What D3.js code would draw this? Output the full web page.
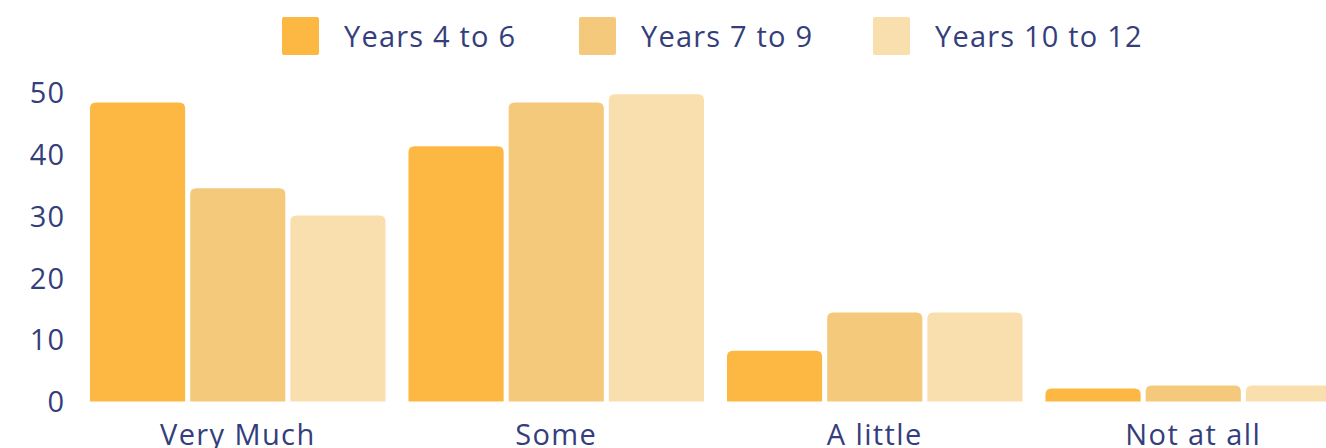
<!DOCTYPE html>
<html><head><meta charset="utf-8">
<script src="https://cdn.jsdelivr.net/npm/d3@7"></script>
<style>html,body{margin:0;padding:0;background:#fff;}svg{display:block;}</style>
</head><body>
<svg id="chart" width="1326" height="448"></svg>
<script>
const categories = ["Very Much", "Some", "A little", "Not at all"];
const seriesNames = ["Years 4 to 6", "Years 7 to 9", "Years 10 to 12"];
const years4to6 = [48.4, 41.3, 8.2, 2.1];
const years7to9 = [34.5, 48.4, 14.4, 2.6];
const years10to12 = [30.1, 49.7, 14.4, 2.6];
const yTicks = [0, 10, 20, 30, 40, 50];
const colors = ["#FDB843", "#F5C97B", "#F9DFAD"];
const textColor = "#343E7B";
const font = "'Open Sans', sans-serif";

const series = [years4to6, years7to9, years10to12];
const svg = d3.select("#chart");

const x0 = d3.scaleBand().domain(categories).range([78.5, 1352.5]).paddingInner(0.072).paddingOuter(0.036);
const x1 = d3.scaleBand().domain(seriesNames).range([0, x0.bandwidth()]).paddingInner(0.05);
const y = d3.scaleLinear().domain([0, 50]).range([401.5, 92.5]);

// y axis labels
const yAxis = d3.axisLeft(y).tickValues(yTicks).tickSize(0).tickPadding(0);
const ga = svg.append("g").attr("transform", "translate(65,0)").call(yAxis);
ga.select(".domain").remove();
ga.selectAll("text").attr("font-family", font).attr("font-size", 29).attr("letter-spacing", "1px")
  .attr("fill", textColor).attr("dy", "0.35em");

// x axis labels
const xAxis = d3.axisBottom(x0).tickSize(0).tickPadding(0);
const gx = svg.append("g").attr("transform", "translate(0,445)").call(xAxis);
gx.select(".domain").remove();
gx.selectAll("text").attr("font-family", font).attr("font-size", 29).attr("letter-spacing", "1.4px")
  .attr("fill", textColor).attr("dy", "0");

function topRounded(x, yTop, w, h, r) {
  r = Math.min(r, h, w / 2);
  return `M${x},${yTop + h}V${yTop + r}Q${x},${yTop} ${x + r},${yTop}H${x + w - r}Q${x + w},${yTop} ${x + w},${yTop + r}V${yTop + h}Z`;
}

const groups = svg.append("g").selectAll("g").data(categories).join("g")
  .attr("transform", d => `translate(${x0(d)},0)`);
groups.selectAll("path").data((c, i) => series.map((s, k) => ({ name: seriesNames[k], v: s[i], k })))
  .join("path")
  .attr("fill", d => colors[d.k])
  .attr("d", d => topRounded(x1(d.name), y(d.v), x1.bandwidth(), y(0) - y(d.v), 6));

// legend
const legendX = [282, 579, 873];
const leg = svg.append("g");
seriesNames.forEach((n, k) => {
  leg.append("rect").attr("x", legendX[k]).attr("y", 17).attr("width", 37).attr("height", 38).attr("rx", 2).attr("fill", colors[k]);
  leg.append("text").attr("x", legendX[k] + 62).attr("y", 47)
    .attr("font-family", font).attr("font-size", 29).attr("letter-spacing", "1.2px")
    .attr("fill", textColor).text(n);
});
</script>
</body></html>
